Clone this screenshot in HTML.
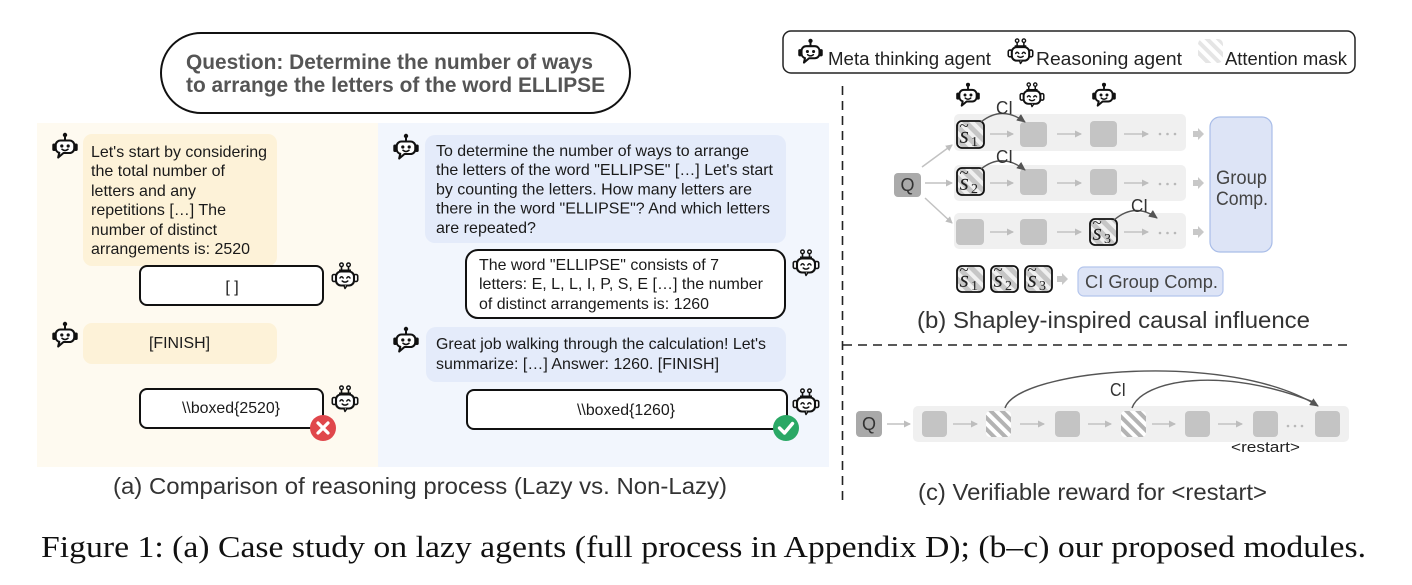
<!DOCTYPE html>
<html><head><meta charset="utf-8"><style>
html,body{margin:0;padding:0;background:#fff;}
svg{display:block;}
text{font-family:"Liberation Sans",Arial,sans-serif;}
.serif{font-family:"Liberation Serif","Times New Roman",serif;}
</style></head><body>
<svg width="1412" height="585" viewBox="0 0 1412 585" xmlns="http://www.w3.org/2000/svg">
<defs>
  <pattern id="hc" width="8" height="8" patternUnits="userSpaceOnUse" patternTransform="rotate(-45)">
    <rect width="8" height="8" fill="#ffffff"/><rect width="4" height="8" fill="#b3b3b3"/>
  </pattern>
  <pattern id="hs" width="9" height="9" patternUnits="userSpaceOnUse" patternTransform="rotate(-45)">
    <rect width="9" height="9" fill="#f0f0f0"/><rect width="5" height="9" fill="#c6c6c6"/>
  </pattern>
  <pattern id="hl" width="8" height="8" patternUnits="userSpaceOnUse" patternTransform="rotate(-45)">
    <rect width="8" height="8" fill="#ffffff"/><rect width="4" height="8" fill="#dcdcdc"/>
  </pattern>
  <marker id="ag" markerWidth="7" markerHeight="7" refX="6" refY="3.5" orient="auto" markerUnits="userSpaceOnUse">
    <path d="M0,0 L7,3.5 L0,7 z" fill="#bdbdbd"/>
  </marker>
  <marker id="ad" markerWidth="9" markerHeight="8" refX="8" refY="4" orient="auto" markerUnits="userSpaceOnUse">
    <path d="M0,0 L9,4 L0,8 z" fill="#555"/>
  </marker>
  <symbol id="meta" viewBox="0 0 28 28">
    <circle cx="14" cy="3" r="2.2" fill="#111"/>
    <line x1="14" y1="4" x2="14" y2="8.5" stroke="#111" stroke-width="2"/>
    <rect x="1.3" y="11.5" width="3.8" height="7.5" rx="1.6" fill="#111"/>
    <rect x="22.9" y="11.5" width="3.8" height="7.5" rx="1.6" fill="#111"/>
    <path d="M9.5,8.5 H18.5 A4.8,4.8 0 0 1 23.3,13.3 V16.2 A4.8,4.8 0 0 1 18.5,21 H12.5 L7.2,25.5 L8.3,20.8 A4.8,4.8 0 0 1 4.7,16.2 V13.3 A4.8,4.8 0 0 1 9.5,8.5 Z" fill="#fff" stroke="#111" stroke-width="2.1" stroke-linejoin="round"/>
    <circle cx="10.8" cy="14" r="1.6" fill="#111"/>
    <circle cx="17.2" cy="14" r="1.6" fill="#111"/>
    <path d="M11,17.3 Q14,19.8 17,17.3" fill="none" stroke="#111" stroke-width="1.6" stroke-linecap="round"/>
  </symbol>
  <symbol id="reas" viewBox="0 0 28 28">
    <circle cx="10.5" cy="2.8" r="1.8" fill="#fff" stroke="#111" stroke-width="1.4"/>
    <circle cx="17.5" cy="2.8" r="1.8" fill="#fff" stroke="#111" stroke-width="1.4"/>
    <line x1="10.5" y1="4.6" x2="10.5" y2="8.5" stroke="#111" stroke-width="1.6"/>
    <line x1="17.5" y1="4.6" x2="17.5" y2="8.5" stroke="#111" stroke-width="1.6"/>
    <line x1="8" y1="8.3" x2="20" y2="8.3" stroke="#111" stroke-width="1.6"/>
    <rect x="1.3" y="12.5" width="3.8" height="7" rx="1.6" fill="#fff" stroke="#111" stroke-width="1.6"/>
    <rect x="22.9" y="12.5" width="3.8" height="7" rx="1.6" fill="#fff" stroke="#111" stroke-width="1.6"/>
    <rect x="5" y="9.5" width="18" height="14" rx="5" fill="#fff" stroke="#111" stroke-width="2.1"/>
    <path d="M13,23.5 L14,26.5 L16,23.5" fill="#fff" stroke="#111" stroke-width="1.5" stroke-linejoin="round"/>
    <path d="M9,16 Q10.6,13.6 12.2,16 M15.8,16 Q17.4,13.6 19,16" fill="none" stroke="#111" stroke-width="1.5" stroke-linecap="round"/>
    <path d="M11.2,19 Q14,21.2 16.8,19" fill="none" stroke="#111" stroke-width="1.5" stroke-linecap="round"/>
  </symbol>
</defs>

<!-- Question pill -->
<rect x="161" y="33" width="469" height="80" rx="40" fill="#fff" stroke="#111" stroke-width="2"/>
<text x="186" y="69" font-size="21" font-weight="bold" fill="#555" textLength="407" lengthAdjust="spacingAndGlyphs">Question: Determine the number of ways</text>
<text x="186" y="92" font-size="21" font-weight="bold" fill="#555" textLength="419" lengthAdjust="spacingAndGlyphs">to arrange the letters of the word ELLIPSE</text>

<!-- Panel backgrounds -->
<rect x="37" y="123" width="341" height="344" fill="#fefaf0"/>
<rect x="378" y="123" width="451" height="344" fill="#f2f6fd"/>

<!-- Left (lazy) -->
<use href="#meta" x="51" y="132" width="28" height="28"/>
<rect x="83" y="134" width="194" height="132" rx="9" fill="#fdf2d8"/>
<g font-size="16" fill="#1a1a1a">
<text x="91" y="157" textLength="176" lengthAdjust="spacingAndGlyphs">Let's start by considering</text>
<text x="91" y="176" textLength="134" lengthAdjust="spacingAndGlyphs">the total number of</text>
<text x="91" y="196" textLength="105" lengthAdjust="spacingAndGlyphs">letters and any</text>
<text x="91" y="215" textLength="135" lengthAdjust="spacingAndGlyphs">repetitions […] The</text>
<text x="91" y="235" textLength="126" lengthAdjust="spacingAndGlyphs">number of distinct</text>
<text x="91" y="254" textLength="159" lengthAdjust="spacingAndGlyphs">arrangements is: 2520</text>
</g>
<rect x="140" y="266" width="183" height="39" rx="7" fill="#fff" stroke="#111" stroke-width="2"/>
<text x="232" y="292" font-size="16" fill="#1a1a1a" text-anchor="middle">[ ]</text>
<use href="#reas" x="331" y="262" width="28" height="28"/>

<use href="#meta" x="51" y="321" width="28" height="28"/>
<rect x="83" y="323" width="194" height="41" rx="9" fill="#fdf2d8"/>
<text x="149" y="348" font-size="16" fill="#1a1a1a" textLength="61" lengthAdjust="spacingAndGlyphs">[FINISH]</text>

<rect x="140" y="389" width="183" height="39" rx="7" fill="#fff" stroke="#111" stroke-width="2"/>
<text x="182" y="413" font-size="16" fill="#1a1a1a" textLength="98" lengthAdjust="spacingAndGlyphs">\\boxed{2520}</text>
<use href="#reas" x="331" y="385" width="28" height="28"/>
<circle cx="323" cy="428" r="13" fill="#e0474c"/>
<path d="M318,423 L328,433 M328,423 L318,433" stroke="#fff" stroke-width="3.2" stroke-linecap="round"/>

<!-- Right (non-lazy) -->
<use href="#meta" x="392" y="133" width="28" height="28"/>
<rect x="425" y="135" width="361" height="108" rx="10" fill="#e4ebfa"/>
<g font-size="16" fill="#1a1a1a">
<text x="436" y="156" textLength="313" lengthAdjust="spacingAndGlyphs">To determine the number of ways to arrange</text>
<text x="436" y="175" textLength="337" lengthAdjust="spacingAndGlyphs">the letters of the word "ELLIPSE" […] Let's start</text>
<text x="436" y="194.5" textLength="316" lengthAdjust="spacingAndGlyphs">by counting the letters. How many letters are</text>
<text x="436" y="213.5" textLength="334" lengthAdjust="spacingAndGlyphs">there in the word "ELLIPSE"? And which letters</text>
<text x="436" y="233" textLength="100" lengthAdjust="spacingAndGlyphs">are repeated?</text>
</g>
<rect x="466" y="250" width="319" height="68" rx="12" fill="#fff" stroke="#111" stroke-width="2"/>
<g font-size="16" fill="#1a1a1a">
<text x="479" y="270" textLength="240" lengthAdjust="spacingAndGlyphs">The word "ELLIPSE" consists of 7</text>
<text x="479" y="289" textLength="284" lengthAdjust="spacingAndGlyphs">letters: E, L, L, I, P, S, E […] the number</text>
<text x="479" y="309" textLength="230" lengthAdjust="spacingAndGlyphs">of distinct arrangements is: 1260</text>
</g>
<use href="#reas" x="792" y="249" width="28" height="28"/>

<use href="#meta" x="392" y="326" width="28" height="28"/>
<rect x="426" y="327" width="360" height="55" rx="10" fill="#e4ebfa"/>
<g font-size="16" fill="#1a1a1a">
<text x="436" y="349" textLength="330" lengthAdjust="spacingAndGlyphs">Great job walking through the calculation! Let's</text>
<text x="436" y="369" textLength="283" lengthAdjust="spacingAndGlyphs">summarize: […] Answer: 1260. [FINISH]</text>
</g>
<rect x="467" y="390" width="320" height="39" rx="7" fill="#fff" stroke="#111" stroke-width="2"/>
<text x="577" y="415" font-size="16" fill="#1a1a1a" textLength="98" lengthAdjust="spacingAndGlyphs">\\boxed{1260}</text>
<use href="#reas" x="792" y="388" width="28" height="28"/>
<circle cx="786" cy="428" r="13" fill="#2aa865"/>
<path d="M779.5,428 L784.5,433 L792.5,423.5" fill="none" stroke="#fff" stroke-width="3.4" stroke-linecap="round" stroke-linejoin="round"/>

<text x="113" y="494" font-size="23" fill="#333" textLength="614" lengthAdjust="spacingAndGlyphs">(a) Comparison of reasoning process (Lazy vs. Non-Lazy)</text>

<!-- Legend -->
<rect x="783" y="31" width="572" height="42" rx="8" fill="#fff" stroke="#222" stroke-width="1.5"/>
<use href="#meta" x="797" y="38" width="27" height="27"/>
<text x="828" y="65" font-size="18.5" fill="#222" textLength="163" lengthAdjust="spacingAndGlyphs">Meta thinking agent</text>
<use href="#reas" x="1007" y="38" width="27" height="27"/>
<text x="1036" y="65" font-size="18.5" fill="#222" textLength="146" lengthAdjust="spacingAndGlyphs">Reasoning agent</text>
<rect x="1198" y="39" width="25" height="24" rx="5" fill="url(#hl)" opacity="0.75"/>
<text x="1225" y="65" font-size="18.5" fill="#222" textLength="122" lengthAdjust="spacingAndGlyphs">Attention mask</text>

<!-- Dashed separators -->
<line x1="842.5" y1="86" x2="842.5" y2="500" stroke="#222" stroke-width="1.6" stroke-dasharray="9,6"/>
<line x1="843" y1="345" x2="1352" y2="345" stroke="#222" stroke-width="1.6" stroke-dasharray="9,6"/>

<!-- Panel (b) -->
<use href="#meta" x="955" y="82" width="26" height="26"/>
<use href="#reas" x="1019" y="82" width="26" height="26"/>
<use href="#meta" x="1091" y="82" width="26" height="26"/>

<rect x="954" y="114" width="232" height="37" rx="5" fill="#f0f0f0"/>
<rect x="954" y="165" width="232" height="36" rx="5" fill="#f0f0f0"/>
<rect x="954" y="213" width="232" height="36" rx="5" fill="#f0f0f0"/>

<rect x="894" y="173" width="27" height="24" rx="4" fill="#aaaaaa"/>
<text x="907.5" y="191" font-size="18" fill="#333" text-anchor="middle">Q</text>
<g stroke="#c2c2c2" stroke-width="1.5" marker-end="url(#ag)">
<line x1="922" y1="167" x2="952" y2="145"/>
<line x1="925" y1="183" x2="952" y2="183"/>
<line x1="925" y1="198" x2="952" y2="223"/>
</g>

<g fill="#c4c4c4">
<rect x="1020" y="122" width="27" height="25" rx="4"/>
<rect x="1090" y="121" width="27" height="26" rx="4"/>
<rect x="1020" y="169" width="27" height="26" rx="4"/>
<rect x="1090" y="169" width="27" height="26" rx="4"/>
<rect x="956" y="219" width="28" height="26" rx="4"/>
<rect x="1020" y="219" width="27" height="26" rx="4"/>
</g>
<g stroke="#c2c2c2" stroke-width="1.5" marker-end="url(#ag)">
<line x1="990" y1="134" x2="1013" y2="134"/>
<line x1="1057" y1="134" x2="1081" y2="134"/>
<line x1="1124" y1="134" x2="1148" y2="134"/>
<line x1="990" y1="183" x2="1013" y2="183"/>
<line x1="1057" y1="183" x2="1081" y2="183"/>
<line x1="1124" y1="183" x2="1148" y2="183"/>
<line x1="990" y1="232" x2="1013" y2="232"/>
<line x1="1057" y1="232" x2="1081" y2="232"/>
<line x1="1124" y1="232" x2="1148" y2="232"/>
</g>
<g fill="#b8b8b8">
<circle cx="1160" cy="134" r="1.3"/><circle cx="1167.5" cy="134" r="1.3"/><circle cx="1175" cy="134" r="1.3"/>
<circle cx="1160" cy="184" r="1.3"/><circle cx="1167.5" cy="184" r="1.3"/><circle cx="1175" cy="184" r="1.3"/>
<circle cx="1160" cy="233" r="1.3"/><circle cx="1167.5" cy="233" r="1.3"/><circle cx="1175" cy="233" r="1.3"/>
</g>
<g fill="#c8c8c8">
<path d="M1193,131 H1198 V128 L1204,134 L1198,140 V137 H1193 Z"/>
<path d="M1193,180 H1198 V177 L1204,183 L1198,189 V186 H1193 Z"/>
<path d="M1193,229 H1198 V226 L1204,232 L1198,238 V235 H1193 Z"/>
<path d="M1057,276 H1062 V273 L1068,279 L1062,285 V282 H1057 Z"/>
</g>

<!-- s-tilde boxes -->
<g>
<rect x="957" y="121" width="27" height="27" rx="5" fill="url(#hs)" stroke="#111" stroke-width="1.8"/>
<text class="serif" x="959.5" y="143" font-size="24" font-style="italic" fill="#222">s</text>
<text class="serif" x="959.5" y="131" font-size="17" fill="#222">~</text>
<text class="serif" x="971" y="146" font-size="14" fill="#222">1</text>

<rect x="957" y="168" width="27" height="27" rx="5" fill="url(#hs)" stroke="#111" stroke-width="1.8"/>
<text class="serif" x="959.5" y="190" font-size="24" font-style="italic" fill="#222">s</text>
<text class="serif" x="959.5" y="178" font-size="17" fill="#222">~</text>
<text class="serif" x="971" y="193" font-size="14" fill="#222">2</text>

<rect x="1090" y="219" width="27" height="26" rx="5" fill="url(#hs)" stroke="#111" stroke-width="1.8"/>
<text class="serif" x="1092.5" y="240" font-size="24" font-style="italic" fill="#222">s</text>
<text class="serif" x="1092.5" y="228" font-size="17" fill="#222">~</text>
<text class="serif" x="1104" y="243" font-size="14" fill="#222">3</text>

<rect x="957" y="266" width="27" height="26" rx="5" fill="url(#hs)" stroke="#111" stroke-width="1.8"/>
<text class="serif" x="959.5" y="287" font-size="24" font-style="italic" fill="#222">s</text>
<text class="serif" x="959.5" y="275" font-size="17" fill="#222">~</text>
<text class="serif" x="971" y="290" font-size="14" fill="#222">1</text>

<rect x="991" y="266" width="27" height="26" rx="5" fill="url(#hs)" stroke="#111" stroke-width="1.8"/>
<text class="serif" x="993.5" y="287" font-size="24" font-style="italic" fill="#222">s</text>
<text class="serif" x="993.5" y="275" font-size="17" fill="#222">~</text>
<text class="serif" x="1005" y="290" font-size="14" fill="#222">2</text>

<rect x="1025" y="266" width="27" height="26" rx="5" fill="url(#hs)" stroke="#111" stroke-width="1.8"/>
<text class="serif" x="1027.5" y="287" font-size="24" font-style="italic" fill="#222">s</text>
<text class="serif" x="1027.5" y="275" font-size="17" fill="#222">~</text>
<text class="serif" x="1039" y="290" font-size="14" fill="#222">3</text>
</g>

<!-- CI arcs (b) -->
<g fill="none" stroke="#555" stroke-width="1.4" marker-end="url(#ad)">
<path d="M981,122 Q1002,105 1025,122"/>
<path d="M981,169 Q1002,152 1025,170"/>
<path d="M1114,220 Q1135,202 1157,218"/>
</g>
<g font-size="18" fill="#333">
<text x="996" y="114" textLength="17" lengthAdjust="spacingAndGlyphs">CI</text>
<text x="996" y="163" textLength="17" lengthAdjust="spacingAndGlyphs">CI</text>
<text x="1131" y="212" textLength="17" lengthAdjust="spacingAndGlyphs">CI</text>
</g>

<rect x="1210" y="117" width="62" height="135" rx="10" fill="#dde4f6" stroke="#a9bde8" stroke-width="1.2"/>
<text x="1216" y="184" font-size="19" fill="#444" textLength="51" lengthAdjust="spacingAndGlyphs">Group</text>
<text x="1216" y="205" font-size="19" fill="#444" textLength="52" lengthAdjust="spacingAndGlyphs">Comp.</text>

<rect x="1078" y="267" width="145" height="29" rx="6" fill="#dde4f6" stroke="#b4c5ec" stroke-width="1.2"/>
<text x="1085" y="288" font-size="18" fill="#444" textLength="133" lengthAdjust="spacingAndGlyphs">CI Group Comp.</text>

<text x="917" y="328" font-size="23" fill="#333" textLength="393" lengthAdjust="spacingAndGlyphs">(b) Shapley-inspired causal influence</text>

<!-- Panel (c) -->
<rect x="913" y="406" width="436" height="36" rx="5" fill="#f0f0f0"/>
<rect x="856" y="411" width="26" height="26" rx="4" fill="#a9a9a9"/>
<text x="869" y="430" font-size="18" fill="#333" text-anchor="middle">Q</text>
<g fill="#c4c4c4">
<rect x="922" y="411" width="25" height="26" rx="4"/>
<rect x="1055" y="411" width="25" height="26" rx="4"/>
<rect x="1185" y="411" width="25" height="26" rx="4"/>
<rect x="1253" y="411" width="25" height="26" rx="4"/>
<rect x="1315" y="411" width="25" height="26" rx="4"/>
</g>
<rect x="986" y="411" width="25" height="26" rx="4" fill="url(#hc)"/>
<rect x="1121" y="411" width="25" height="26" rx="4" fill="url(#hc)"/>
<g stroke="#c2c2c2" stroke-width="1.5" marker-end="url(#ag)">
<line x1="887" y1="424" x2="910" y2="424"/>
<line x1="953" y1="424" x2="977" y2="424"/>
<line x1="1020" y1="424" x2="1044" y2="424"/>
<line x1="1088" y1="424" x2="1111" y2="424"/>
<line x1="1152" y1="424" x2="1175" y2="424"/>
<line x1="1218" y1="424" x2="1242" y2="424"/>
</g>
<g fill="#b8b8b8">
<circle cx="1288" cy="426" r="1.3"/><circle cx="1295" cy="426" r="1.3"/><circle cx="1302" cy="426" r="1.3"/>
</g>
<g fill="none" stroke="#555" stroke-width="1.4">
<path d="M1005,408 C1018,369 1230,350 1318,406" marker-end="url(#ad)"/>
<path d="M1132,408 C1142,380 1222,365 1316,403"/>
</g>
<text x="1110" y="396" font-size="18" fill="#333" textLength="16" lengthAdjust="spacingAndGlyphs">CI</text>
<text x="1231" y="452" font-size="14.5" fill="#222" textLength="69" lengthAdjust="spacingAndGlyphs">&lt;restart&gt;</text>

<text x="918" y="500" font-size="23" fill="#333" textLength="349" lengthAdjust="spacingAndGlyphs">(c) Verifiable reward for &lt;restart&gt;</text>

<!-- Figure caption -->
<text class="serif" x="41" y="557" font-size="31" fill="#111" textLength="1325" lengthAdjust="spacingAndGlyphs">Figure 1: (a) Case study on lazy agents (full process in Appendix D); (b–c) our proposed modules.</text>
</svg>
</body></html>
